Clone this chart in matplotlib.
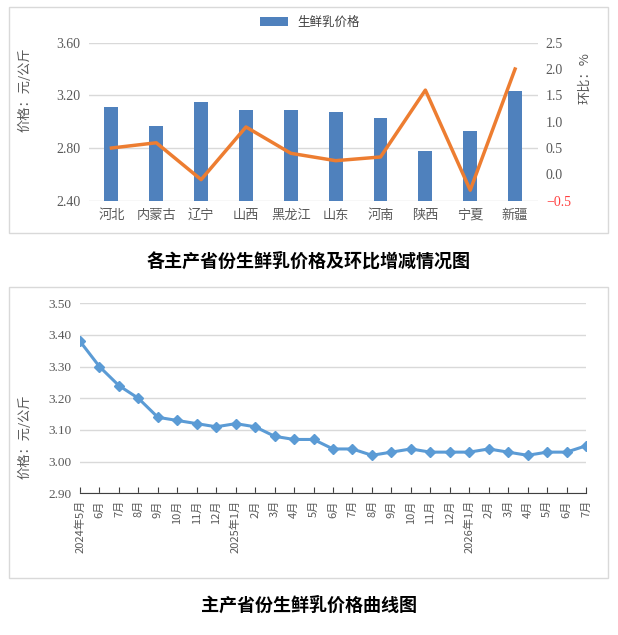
import matplotlib
matplotlib.use('Agg')
from matplotlib import pyplot as plt
from matplotlib.patches import Rectangle
import numpy

provinces = ['河北', '内蒙古', '辽宁', '山西', '黑龙江', '山东', '河南', '陕西', '宁夏', '新疆']
prices = [3.11, 2.97, 3.15, 3.09, 3.09, 3.07, 3.03, 2.78, 2.93, 3.23]
mom_change = [0.5, 0.6, -0.1, 0.9, 0.4, 0.26, 0.33, 1.6, -0.3, 2.0]

months = ['2024年5月', '6月', '7月', '8月', '9月', '10月', '11月', '12月',
          '2025年1月', '2月', '3月', '4月', '5月', '6月', '7月', '8月', '9月',
          '10月', '11月', '12月', '2026年1月', '2月', '3月', '4月', '5月', '6月', '7月']
month_prices = [3.38, 3.30, 3.24, 3.20, 3.14, 3.13, 3.12, 3.11, 3.12, 3.11,
                3.08, 3.07, 3.07, 3.04, 3.04, 3.02, 3.03, 3.04, 3.03, 3.03,
                3.03, 3.04, 3.03, 3.02, 3.03, 3.03, 3.05]

W, H = 618, 635
serif = ['Liberation Serif', 'Noto Sans CJK SC']
cjk = ['Noto Sans CJK SC', 'DejaVu Sans']
plt.rcParams['font.family'] = cjk
grey = '#595959'
grid = '#D9D9D9'


def box(px0, py0, px1, py1):
    # rectangle in pixel coords (y from top)
    return [px0 / W, 1 - py1 / H, (px1 - px0) / W, (py1 - py0) / H]


fig = plt.figure(figsize=(W / 100, H / 100), dpi=100)

# frames
for y0, y1 in [(7, 233), (287, 578)]:
    r = box(9, y0, 608, y1)
    fig.patches.append(Rectangle((r[0], r[1]), r[2], r[3], transform=fig.transFigure,
                                 fill=False, edgecolor='#D9D9D9', linewidth=1))

# ---- top chart ----
ax = fig.add_axes(box(89, 42.7, 537.5, 200.7))
x = numpy.arange(len(provinces))
bars = ax.bar(x, prices, 0.31, color='#4F81BD', label='生鲜乳价格', zorder=3)
ax.set_ylim(2.40, 3.60)
ax.set_yticks([2.40, 2.80, 3.20, 3.60])
ax.set_yticklabels(['%.2f' % v for v in [2.40, 2.80, 3.20, 3.60]], family=serif, fontsize=10, color=grey)
ax.set_xlim(-0.5, len(provinces) - 0.5)
ax.set_xticks(x)
ax.set_xticklabels(provinces, family=cjk, fontsize=9.5, color=grey)
ax.tick_params(length=0, pad=6)
ax.yaxis.grid(True, color=grid, linewidth=1, zorder=0)
for s in ax.spines.values():
    s.set_visible(False)

ax2 = ax.twinx()
ax2.plot(x, mom_change, color='#ED7D31', linewidth=2.5, zorder=4)
ax2.set_ylim(-0.5, 2.5)
rt = [-0.5, 0.0, 0.5, 1.0, 1.5, 2.0, 2.5]
ax2.set_yticks(rt)
ax2.set_yticklabels(['%.1f' % v if v >= 0 else '\u22120.5' for v in rt], family=serif, fontsize=10, color=grey)
ax2.get_yticklabels()[0].set_color('#FF4040')
ax2.tick_params(length=0, pad=6)
for s in ax2.spines.values():
    s.set_visible(False)

fig.text(25 / W, 1 - 90 / H, '价格：元/公斤', rotation=90, ha='center', va='center', fontsize=9.5, color=grey)
fig.text(585 / W, 1 - 78 / H, '环比：%', rotation=90, ha='center', va='center', fontsize=9.5, color=grey)
fig.legend(handles=[bars], labels=['生鲜乳价格'], loc='center', bbox_to_anchor=(310 / W, 1 - 22 / H),
           frameon=False, fontsize=9, handlelength=2.2, handleheight=0.7, labelcolor='#404040')

fig.text(309 / W, 1 - 261 / H, '各主产省份生鲜乳价格及环比增减情况图', ha='center', va='center',
         fontsize=13, fontweight='bold', color='black')

# ---- bottom chart ----
bx = fig.add_axes(box(80, 303.3, 586, 493.3))
xm = numpy.arange(len(months))
bx.plot(xm, month_prices, color='#5B9BD5', linewidth=2.2, marker='D', markersize=5, zorder=3)
bx.set_ylim(2.90, 3.50)
yt = [2.90, 3.00, 3.10, 3.20, 3.30, 3.40, 3.50]
bx.set_yticks(yt)
bx.set_yticklabels(['%.2f' % v for v in yt], family=serif, fontsize=9.5, color=grey)
bx.set_xlim(0, len(months) - 1)
bx.set_xticks(xm)
bx.set_xticklabels(months, rotation=90, family=cjk, fontsize=8, color=grey, va='top')
bx.tick_params(axis='y', length=0, pad=6)
bx.tick_params(axis='x', direction='in', length=4, color='#404040', pad=5)
bx.yaxis.grid(True, color=grid, linewidth=1, zorder=0)
for k in ['top', 'left', 'right']:
    bx.spines[k].set_visible(False)
bx.spines['bottom'].set_color('#404040')

fig.text(25 / W, 1 - 437 / H, '价格：元/公斤', rotation=90, ha='center', va='center', fontsize=9.5, color=grey)
fig.text(309 / W, 1 - 605 / H, '主产省份生鲜乳价格曲线图', ha='center', va='center',
         fontsize=13, fontweight='bold', color='black')

fig.savefig('out.png', dpi=100)
